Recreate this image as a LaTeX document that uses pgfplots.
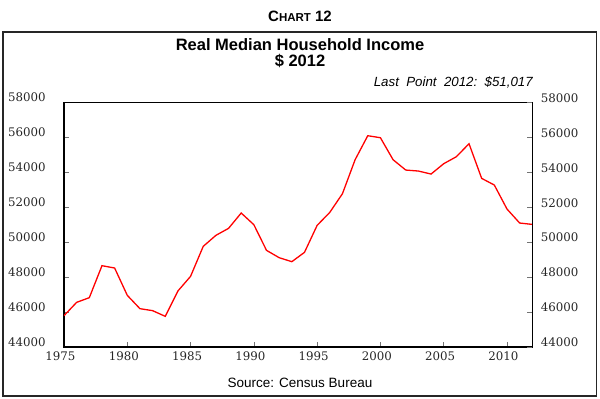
\documentclass[border=0pt]{standalone}
\usepackage{pgfplots}
\pgfplotsset{compat=1.18}
\usepackage{fontspec}
\setmainfont{Liberation Sans}
\newfontfamily\tickfont{DejaVu Serif}
\begin{document}
\begin{tikzpicture}[x=1pt,y=1pt]
\useasboundingbox (0,0) rectangle (600,399);
\draw[line width=1.4pt, black!85] (3,3) rectangle (596.5,367);
\node[font=\bfseries] at (300,383) {{\fontsize{15}{15}\selectfont C}{\fontsize{11.5}{11.5}\selectfont HART}{\fontsize{15}{15}\selectfont\ 12}};
\node[font=\bfseries\fontsize{16.5}{16.5}\selectfont] at (300,354.5) {Real Median Household Income};
\node[font=\bfseries\fontsize{16.5}{16.5}\selectfont] at (300,338) {\$ 2012};
\node[font=\itshape\fontsize{13.3}{13.3}\selectfont, anchor=east, inner sep=0pt] at (533,317) {Last~~Point~~2012:~~\$51,017};
\node[font=\fontsize{13.5}{13.5}\selectfont] at (300,16) {Source: Census Bureau};
\pgfplotsset{
  every axis/.append style={
    at={(64pt,52pt)}, anchor=south west,
    scale only axis, width=468.3pt, height=244.6pt,
    xmin=1975, xmax=2012, ymin=44000, ymax=58000,
    ytick={44000,46000,...,58000},
    scaled y ticks=false,
    /pgf/number format/1000 sep={},
    /pgf/number format/assume math mode=true,
    tick align=inside,
    major tick length=5pt,
    every tick/.style={black!55, line width=0.6pt},
    tick label style={font=\tickfont\fontsize{11.8}{11.8}\selectfont, text=black!85},
  }
}
\begin{axis}[
  axis line style={black, line width=1.2pt},
  xtick={1975,1980,...,2010},
  xtick pos=bottom, ytick pos=left,
  xticklabel style={anchor=center, yshift=-9pt, xshift=-3.5pt},
  yticklabel style={anchor=center, xshift=-37pt, yshift=5pt},
]
\addplot[red, line width=1.3pt] coordinates {
(1975,45793) (1976,46556) (1977,46823) (1978,48654) (1979,48521)
(1980,46957) (1981,46194) (1982,46080) (1983,45755) (1984,47205)
(1985,48044) (1986,49760) (1987,50390) (1988,50790) (1989,51668)
(1990,51000) (1991,49532) (1992,49112) (1993,48883) (1994,49417)
(1995,50962) (1996,51706) (1997,52774) (1998,54719) (1999,56093)
(2000,55978) (2001,54719) (2002,54128) (2003,54071) (2004,53899)
(2005,54491) (2006,54891) (2007,55635) (2008,53651) (2009,53270)
(2010,51897) (2011,51096) (2012,51017)
};
\end{axis}
\begin{axis}[
  hide x axis,
  axis y line*=right,
  y axis line style={-, black, line width=1.2pt},
  yticklabel style={anchor=center, xshift=27.4pt, yshift=4.5pt},
]
\addplot[draw=none] coordinates {(1975,44000) (2012,58000)};
\end{axis}
\end{tikzpicture}
\end{document}
